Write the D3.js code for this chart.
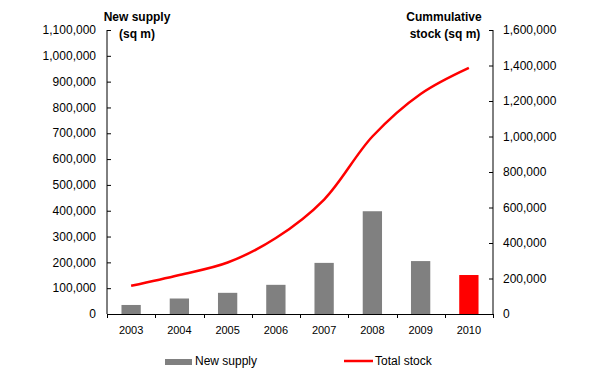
<!DOCTYPE html>
<html>
<head>
<meta charset="utf-8">
<script src="https://cdn.jsdelivr.net/npm/d3@7"></script>
<style>
  body { margin: 0; background: #fff; }
  text { font-family: "Liberation Sans", Arial, sans-serif; fill: #000; }
</style>
</head>
<body>
<svg id="chart" width="600" height="384"></svg>
<script>
var years = ["2003", "2004", "2005", "2006", "2007", "2008", "2009", "2010"];
var newSupply = [35000, 60000, 82000, 113000, 198000, 398000, 205000, 151000];
var totalStock = [159000, 220000, 290000, 428000, 645000, 1000000, 1240000, 1387000];
var leftTicks = [0, 100000, 200000, 300000, 400000, 500000, 600000, 700000, 800000, 900000, 1000000, 1100000];
var rightTicks = [0, 200000, 400000, 600000, 800000, 1000000, 1200000, 1400000, 1600000];

var plotLeft = 107, plotRight = 493, plotTop = 30, plotBottom = 314;

var svg = d3.select("#chart");
var fmt = d3.format(",");

var x = d3.scaleBand()
    .domain(years)
    .range([plotLeft, plotRight])
    .paddingInner(0.6)
    .paddingOuter(0.3);

var xOuter = d3.scaleBand().domain(years).range([plotLeft, plotRight]);

var yLeft = d3.scaleLinear().domain([0, 1100000]).range([plotBottom, plotTop]);
var yRight = d3.scaleLinear().domain([0, 1600000]).range([plotBottom, plotTop]);

// bars
svg.selectAll(".bar")
    .data(newSupply)
    .enter().append("rect")
    .attr("class", "bar")
    .attr("x", function(d, i) { return x(years[i]); })
    .attr("width", x.bandwidth())
    .attr("y", function(d) { return yLeft(d); })
    .attr("height", function(d) { return plotBottom - yLeft(d); })
    .style("fill", function(d, i) { return i == years.length - 1 ? "#ff0000" : "#808080"; });

// line
var line = d3.line()
    .x(function(d, i) { return xOuter(years[i]) + xOuter.bandwidth() / 2; })
    .y(function(d) { return yRight(d); })
    .curve(d3.curveCatmullRom.alpha(0.5));

svg.append("path")
    .datum(totalStock)
    .attr("d", line)
    .style("fill", "none")
    .style("stroke", "#ff0000")
    .style("stroke-width", 2.5);

// left axis
var gl = svg.append("g")
    .attr("transform", "translate(" + plotLeft + ",0)")
    .call(d3.axisRight(yLeft).tickValues(leftTicks).tickSize(4).tickFormat(""));
gl.select(".domain").attr("d", "M0," + plotTop + "V" + plotBottom);
svg.selectAll(".lt")
    .data(leftTicks)
    .enter().append("text")
    .attr("x", 96)
    .attr("y", function(d) { return yLeft(d); })
    .attr("dy", "0.35em")
    .attr("text-anchor", "end")
    .style("font-size", "12px")
    .text(function(d) { return fmt(d); });

// right axis
var gr = svg.append("g")
    .attr("transform", "translate(" + plotRight + ",0)")
    .call(d3.axisLeft(yRight).tickValues(rightTicks).tickSize(4).tickFormat(""));
gr.select(".domain").attr("d", "M0," + plotTop + "V" + plotBottom);
svg.selectAll(".rt")
    .data(rightTicks)
    .enter().append("text")
    .attr("x", 503)
    .attr("y", function(d) { return yRight(d); })
    .attr("dy", "0.35em")
    .style("font-size", "12px")
    .text(function(d) { return fmt(d); });

// x axis
svg.append("line")
    .attr("x1", plotLeft).attr("x2", plotRight)
    .attr("y1", plotBottom + 0.5).attr("y2", plotBottom + 0.5)
    .style("stroke", "#000");
svg.selectAll(".xt")
    .data(years.concat(["end"]))
    .enter().append("line")
    .attr("x1", function(d, i) { return Math.round(plotLeft + i * xOuter.bandwidth()) + 0.5; })
    .attr("x2", function(d, i) { return Math.round(plotLeft + i * xOuter.bandwidth()) + 0.5; })
    .attr("y1", plotBottom).attr("y2", plotBottom + 4)
    .style("stroke", "#000");
svg.selectAll(".xl")
    .data(years)
    .enter().append("text")
    .attr("x", function(d) { return xOuter(d) + xOuter.bandwidth() / 2; })
    .attr("y", 330)
    .attr("dy", "0.35em")
    .attr("text-anchor", "middle")
    .style("font-size", "11px")
    .text(function(d) { return d; });

// titles
var titleL = svg.append("text").attr("text-anchor", "middle")
    .style("font-size", "12px").style("font-weight", "bold");
titleL.append("tspan").attr("x", 137).attr("y", 21).text("New supply");
titleL.append("tspan").attr("x", 137).attr("y", 38).text("(sq m)");

var titleR = svg.append("text").attr("text-anchor", "middle")
    .style("font-size", "12px").style("font-weight", "bold");
titleR.append("tspan").attr("x", 444).attr("y", 21).text("Cummulative");
titleR.append("tspan").attr("x", 445).attr("y", 38).text("stock (sq m)");

// legend
svg.append("rect")
    .attr("x", 165).attr("y", 359).attr("width", 27).attr("height", 6)
    .style("fill", "#808080");
svg.append("text")
    .attr("x", 195).attr("y", 361).attr("dy", "0.35em")
    .style("font-size", "12px")
    .text("New supply");
svg.append("line")
    .attr("x1", 344).attr("x2", 373).attr("y1", 361).attr("y2", 361)
    .style("stroke", "#ff0000").style("stroke-width", 2.5);
svg.append("text")
    .attr("x", 375).attr("y", 361).attr("dy", "0.35em")
    .style("font-size", "12px")
    .text("Total stock");
</script>
</body>
</html>
